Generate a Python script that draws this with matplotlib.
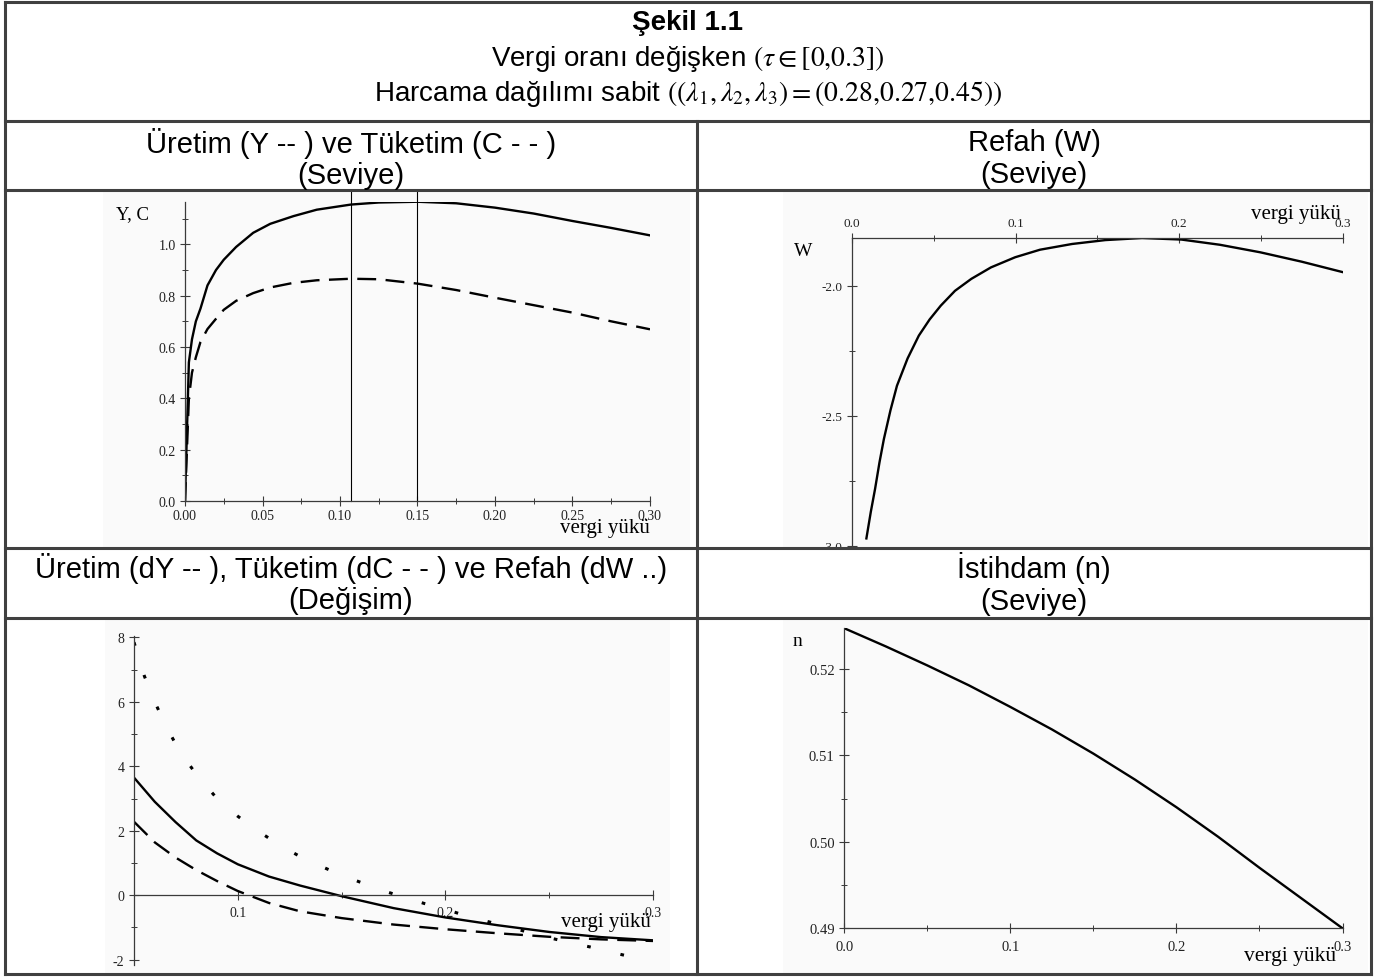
import matplotlib
matplotlib.use("Agg")
import matplotlib.pyplot as plt
from matplotlib.lines import Line2D
from matplotlib.patches import Rectangle
from matplotlib.ticker import MultipleLocator, FixedLocator

plt.rcParams['axes.unicode_minus'] = False
plt.rcParams['mathtext.fontset'] = 'stix'

W, H = 1376, 978

# --- data ---
tau_yc = [0, 0.0025, 0.0045, 0.007, 0.01, 0.0145, 0.02, 0.025, 0.033, 0.044, 0.055,
          0.07, 0.085, 0.107, 0.125, 0.15, 0.175, 0.2, 0.225, 0.25, 0.275, 0.3]
Y = [0, 0.54, 0.63, 0.70, 0.75, 0.84, 0.90, 0.94, 0.99, 1.045, 1.08,
     1.11, 1.135, 1.155, 1.163, 1.166, 1.16, 1.143, 1.12, 1.091, 1.064, 1.035]
C = [0, 0.40, 0.50, 0.56, 0.62, 0.67, 0.71, 0.745, 0.78, 0.81, 0.832,
     0.85, 0.86, 0.866, 0.864, 0.847, 0.822, 0.792, 0.763, 0.734, 0.70, 0.669]
vlines_yc = [0.107, 0.15]

tau_w = [0.0088, 0.0115, 0.0141, 0.0168, 0.0195, 0.0235, 0.0275, 0.034, 0.0409, 0.0475,
         0.0543, 0.063, 0.073, 0.085, 0.0998, 0.115, 0.1346, 0.155, 0.1774, 0.2015,
         0.225, 0.2497, 0.275, 0.3]
Wel = [-2.972, -2.87, -2.782, -2.68, -2.59, -2.48, -2.385, -2.28, -2.192, -2.13,
       -2.077, -2.02, -1.974, -1.93, -1.891, -1.862, -1.840, -1.825, -1.817, -1.823,
       -1.843, -1.872, -1.908, -1.948]

tau_d = [0.05, 0.06, 0.07, 0.08, 0.09, 0.1, 0.115, 0.13, 0.15, 0.175, 0.2, 0.225, 0.25, 0.275, 0.3]
dY = [3.65, 2.90, 2.27, 1.70, 1.30, 0.96, 0.58, 0.30, -0.03, -0.40, -0.69, -0.93, -1.14, -1.30, -1.40]
dC = [2.28, 1.64, 1.17, 0.78, 0.44, 0.13, -0.24, -0.50, -0.71, -0.91, -1.056, -1.18, -1.29, -1.37, -1.42]
tau_dw = [0.05, 0.055, 0.06, 0.065, 0.07, 0.075, 0.08, 0.09, 0.1, 0.11, 0.12, 0.13, 0.14, 0.15,
          0.16, 0.17, 0.18, 0.19, 0.2, 0.21, 0.22, 0.23, 0.24, 0.25, 0.26, 0.27, 0.28, 0.29, 0.2925]
dW = [7.85, 6.8, 6.0, 5.3, 4.7, 4.2, 3.75, 3.0, 2.45, 1.98, 1.56, 1.2, 0.9, 0.62,
      0.38, 0.14, -0.06, -0.26, -0.435, -0.64, -0.81, -0.98, -1.15, -1.32, -1.47, -1.61, -1.77, -1.92, -1.966]

tau_n = [0, 0.025, 0.05, 0.075, 0.1, 0.125, 0.15, 0.175, 0.2, 0.225, 0.25, 0.275, 0.3]
n = [0.5247, 0.5226, 0.5204, 0.5181, 0.5156, 0.5130, 0.5102, 0.5072, 0.5040, 0.5006, 0.4970, 0.4935, 0.4900]

title_lines = ["Şekil 1.1",
               r"Vergi oranı değişken $(\tau \in [0{,}0.3])$",
               r"Harcama dağılımı sabit $((\lambda_1,\lambda_2,\lambda_3)=(0.28{,}0.27{,}0.45))$"]
head1 = ["Üretim (Y -- ) ve Tüketim (C - - )\n(Seviye)", "Refah (W)\n(Seviye)"]
head2 = ["Üretim (dY -- ), Tüketim (dC - - ) ve Refah (dW ..)\n(Değişim)", "İstihdam (n)\n(Seviye)"]
xlab = "vergi yükü"

SANS = "Liberation Sans"
SERIF = "Liberation Serif"


def fx(px):
    return px / W


def fy(py):
    return 1 - py / H


def axes_px(x0, x1, ytop, ybot):
    ax = fig.add_axes([fx(x0), fy(ybot), (x1 - x0) / W, (ybot - ytop) / H])
    ax.patch.set_facecolor('none')
    for s in ax.spines.values():
        s.set_color('#3a3a3a')
        s.set_linewidth(0.9)
    return ax


def style_ticks(ax, size):
    ax.tick_params(which='major', direction='inout', length=7, width=0.8, colors='#3a3a3a',
                   labelsize=size, labelcolor='#222222')
    ax.tick_params(which='minor', direction='inout', length=5, width=0.7, colors='#3a3a3a')
    for lab in ax.get_xticklabels() + ax.get_yticklabels():
        lab.set_family(SERIF)


fig = plt.figure(figsize=(W / 100, H / 100), dpi=100)

# faint picture backgrounds
for (x0, x1, y0, y1) in [(103, 690, 193, 548), (783, 1368, 193, 548),
                         (105, 670, 621, 974), (783, 1368, 621, 974)]:
    fig.add_artist(Rectangle((fx(x0), fy(y1)), (x1 - x0) / W, (y1 - y0) / H,
                             transform=fig.transFigure, facecolor='#fafafa',
                             edgecolor='none', zorder=-1))

# ---------- panel 1: Y, C ----------
ax1 = axes_px(185, 650, 203, 502)
ax1.plot(tau_yc, Y, color='black', lw=1.7)
ax1.plot(tau_yc, C, color='black', lw=1.7, dashes=(8, 4))
for v in vlines_yc:
    ax1.plot([v, v], [0, 1.208], color='black', lw=0.8, clip_on=False)
ax1.set_xlim(0, 0.3)
ax1.set_ylim(0, 1.165)
ax1.spines['top'].set_visible(False)
ax1.spines['right'].set_visible(False)
ax1.set_xticks([0, 0.05, 0.1, 0.15, 0.2, 0.25, 0.3])
ax1.set_xticklabels(["0.00", "0.05", "0.10", "0.15", "0.20", "0.25", "0.30"])
ax1.xaxis.set_minor_locator(MultipleLocator(0.025))
ax1.set_yticks([0, 0.2, 0.4, 0.6, 0.8, 1.0])
ax1.set_yticklabels(["0.0", "0.2", "0.4", "0.6", "0.8", "1.0"])
ax1.yaxis.set_minor_locator(MultipleLocator(0.1))
style_ticks(ax1, 10)
ax1.tick_params(axis='x', pad=2.5)
ax1.tick_params(axis='y', pad=3)
fig.text(fx(133), fy(215), "Y, C", family=SERIF, fontsize=13.5, ha='center', va='center')
fig.text(fx(605), fy(529), xlab, family=SERIF, fontsize=15, ha='center', va='center')

# ---------- panel 2: W ----------
ax2 = axes_px(852, 1342.5, 239, 546.7)
ax2.plot(tau_w, Wel, color='black', lw=1.7)
ax2.set_xlim(0, 0.3)
ax2.set_ylim(-3.0, -1.817)
ax2.spines['bottom'].set_visible(False)
ax2.spines['right'].set_visible(False)
ax2.xaxis.set_ticks_position('top')
ax2.set_xticks([0, 0.1, 0.2, 0.3])
ax2.set_xticklabels(["0.0", "0.1", "0.2", "0.3"])
ax2.xaxis.set_minor_locator(MultipleLocator(0.05))
ax2.set_yticks([-3.0, -2.5, -2.0])
ax2.set_yticklabels(["-3.0", "-2.5", "-2.0"])
ax2.yaxis.set_minor_locator(FixedLocator([-2.75, -2.25]))
style_ticks(ax2, 9.5)
ax2.tick_params(axis='x', pad=3)
fig.text(fx(803), fy(252), "W", family=SERIF, fontsize=14, ha='center', va='center')
fig.text(fx(1296), fy(214), xlab, family=SERIF, fontsize=15, ha='center', va='center')

# ---------- panel 3: dY, dC, dW ----------
ax3 = axes_px(134, 653, 636.8, 965.5)
ax3.plot(tau_d, dY, color='black', lw=1.7)
ax3.plot(tau_d, dC, color='black', lw=1.7, dashes=(8, 4))
ax3.plot(tau_dw, dW, color='black', lw=2.2, dashes=(1.2, 10))
ax3.set_xlim(0.05, 0.3)
ax3.set_ylim(-2.15, 8.05)
ax3.spines['top'].set_visible(False)
ax3.spines['right'].set_visible(False)
ax3.spines['bottom'].set_position(('data', 0))
ax3.set_xticks([0.1, 0.2, 0.3])
ax3.set_xticklabels(["0.1", "0.2", "0.3"])
ax3.xaxis.set_minor_locator(FixedLocator([0.15, 0.25]))
ax3.set_yticks([-2, 0, 2, 4, 6, 8])
ax3.set_yticklabels(["-2", "0", "2", "4", "6", "8"])
ax3.yaxis.set_minor_locator(FixedLocator([-1, 1, 3, 5, 7]))
style_ticks(ax3, 10)
ax3.tick_params(axis='x', pad=4)
fig.text(fx(606), fy(923), xlab, family=SERIF, fontsize=15, ha='center', va='center')

# ---------- panel 4: n ----------
ax4 = axes_px(844.4, 1342.5, 629.3, 929.3)
ax4.plot(tau_n, n, color='black', lw=1.7)
ax4.set_xlim(0, 0.3)
ax4.set_ylim(0.49, 0.5247)
ax4.spines['top'].set_visible(False)
ax4.spines['right'].set_visible(False)
ax4.set_xticks([0, 0.1, 0.2, 0.3])
ax4.set_xticklabels(["0.0", "0.1", "0.2", "0.3"])
ax4.xaxis.set_minor_locator(MultipleLocator(0.05))
ax4.set_yticks([0.49, 0.50, 0.51, 0.52])
ax4.set_yticklabels(["0.49", "0.50", "0.51", "0.52"])
ax4.yaxis.set_minor_locator(FixedLocator([0.495, 0.505, 0.515]))
style_ticks(ax4, 10.5)
ax4.tick_params(axis='x', pad=5)
fig.text(fx(797), fy(642), "n", family=SERIF, fontsize=14, ha='center', va='center')
fig.text(fx(1290), fy(957), xlab, family=SERIF, fontsize=15.5, ha='center', va='center')

# mask the part of the "-3.0" label that falls outside its cell
fig.add_artist(Rectangle((fx(760), fy(560)), 110 / W, 10.5 / H, transform=fig.transFigure,
                         facecolor='white', edgecolor='none', zorder=9))

# ---------- table grid ----------
bc = '#404040'
blw = 2.2
L, R, T, B = 5, 1371, 3, 975
for yy in [T, 122, 191, 549, 619, B]:
    fig.add_artist(Line2D([fx(L), fx(R)], [fy(yy), fy(yy)], transform=fig.transFigure,
                          color=bc, lw=blw, zorder=10))
for xx, y0 in [(L, T), (R, T), (697, 122)]:
    fig.add_artist(Line2D([fx(xx), fx(xx)], [fy(y0), fy(B)], transform=fig.transFigure,
                          color=bc, lw=blw, zorder=10))

# ---------- table text ----------
fig.text(fx(688), fy(23), title_lines[0], family=SANS, fontsize=20, weight='bold',
         ha='center', va='center', zorder=11)
fig.text(fx(688), fy(59), title_lines[1], family=SANS, fontsize=20,
         ha='center', va='center', zorder=11)
fig.text(fx(688), fy(94), title_lines[2], family=SANS, fontsize=20,
         ha='center', va='center', zorder=11)
for txt, cx, cy in [(head1[0], 351, 159), (head1[1], 1034, 159),
                    (head2[0], 351, 584), (head2[1], 1034, 584)]:
    fig.text(fx(cx), fy(cy), txt, family=SANS, fontsize=21, ha='center', va='center',
             linespacing=1.15, zorder=11)

fig.savefig("out.png", dpi=100)
